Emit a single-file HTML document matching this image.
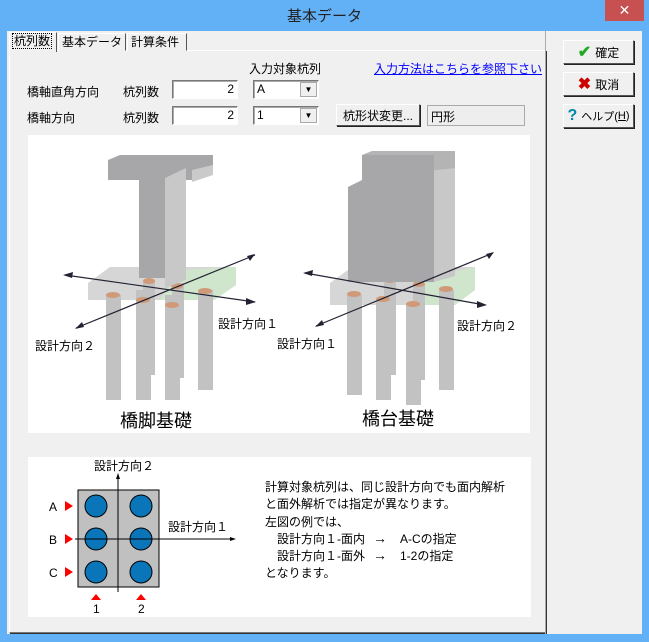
<!DOCTYPE html>
<html><head><meta charset="utf-8"><style>
*{margin:0;padding:0;box-sizing:border-box}
body{width:649px;height:642px;background:#62b0f5;font-family:"Liberation Sans","Noto Sans CJK JP",sans-serif;font-size:12px;color:#000;position:relative;overflow:hidden}
.a{position:absolute}
.client{left:7px;top:31px;width:635px;height:603px;background:#f0f0f0}
.btn{position:absolute;background:#f0f0f0;border:1px solid;border-color:#fff #555 #555 #fff;box-shadow:1px 1px 0 #222;font-size:12px;display:flex;align-items:center;justify-content:center}
.inp{position:absolute;background:#fff;border:1px solid;border-color:#777 #fff #fff #777;box-shadow:inset 1px 1px 0 #aaa;font-size:12px;line-height:16px}
.tab{position:absolute;top:33px;height:18px;background:#f0f0f0;border:1px solid;border-color:#fff #555 transparent #fff;font-size:12px;padding:0 3px;line-height:16px}
</style></head><body>
<div class="a" style="left:0;top:0;width:649px;height:31px;background:#62b0f5"></div>
<div class="a" style="left:0;top:5px;width:649px;text-align:center;font-size:15px;color:#222">基本データ</div>
<div class="a" style="left:605px;top:0;width:39px;height:21px;background:#c75050;color:#fff;text-align:center;font-size:14px;line-height:20px">✕</div>
<div class="a client"></div>
<div class="a" style="left:9px;top:50px;width:537px;height:583px;border:1px solid;border-color:#fff #777 #777 #fff;box-shadow:1px 1px 0 #333"></div>
<div class="tab" style="left:9px;top:32px;height:20px;border-bottom:none;z-index:2;width:48px">
<span style="outline:1px dotted #000;padding:0 1px">杭列数</span></div>
<div class="tab" style="left:58px;width:68px">基本データ</div>
<div class="tab" style="left:127px;width:60px">計算条件</div>
<div class="a" style="left:545px;top:31px;width:1px;height:603px;background:#aaa"></div>

<div class="a" style="left:249px;top:60px">入力対象杭列</div>
<div class="a" style="left:374px;top:60px;color:#00f;text-decoration:underline">入力方法はこちらを参照下さい</div>
<div class="a" style="left:27px;top:83px">橋軸直角方向</div>
<div class="a" style="left:123px;top:83px">杭列数</div>
<div class="inp" style="left:172px;top:80px;width:66px;height:19px;text-align:right;padding-right:3px">2</div>
<div class="inp" style="left:253px;top:80px;width:66px;height:19px;padding-left:3px">A</div>
<div class="a" style="left:300px;top:82px;width:17px;height:15px;background:#f0f0f0;border:1px solid #aaa;text-align:center;font-size:8px;line-height:14px">▼</div>
<div class="a" style="left:27px;top:109px">橋軸方向</div>
<div class="a" style="left:123px;top:109px">杭列数</div>
<div class="inp" style="left:172px;top:106px;width:66px;height:19px;text-align:right;padding-right:3px">2</div>
<div class="inp" style="left:253px;top:106px;width:66px;height:19px;padding-left:3px">1</div>
<div class="a" style="left:300px;top:108px;width:17px;height:15px;background:#f0f0f0;border:1px solid #aaa;text-align:center;font-size:8px;line-height:14px">▼</div>
<div class="btn" style="left:336px;top:104px;width:84px;height:22px">杭形状変更...</div>
<div class="a" style="left:427px;top:105px;width:98px;height:21px;border:1px solid #aaa;background:#eee;padding:2px 3px">円形</div>

<div class="btn" style="left:563px;top:40px;width:71px;height:24px"><span style="color:#2a2;font-size:16px;font-weight:bold;margin-right:4px">✔</span>確定</div>
<div class="btn" style="left:563px;top:72px;width:71px;height:24px"><span style="color:#c00;font-size:16px;font-weight:bold;margin-right:4px">✖</span>取消</div>
<div class="btn" style="left:563px;top:104px;width:71px;height:24px;font-size:11px"><span style="color:#08a;font-size:16px;font-weight:bold;margin-right:4px">?</span>ヘルプ(<u>H</u>)</div>

<svg class="a" style="left:28px;top:135px" width="502" height="298" viewBox="28 135 502 298">
<rect x="28" y="135" width="502" height="298" fill="#fff"/>
<g>
<polygon points="88,283 110,267 236,267 236,285 214,300 88,300" fill="#d6d6d6"/>
<polygon points="180,270 236,267 236,285 214,300 160,300" fill="#cfe6cc"/>
<g fill="#c2c2c2">
<rect x="106" y="295" width="15" height="105"/><rect x="136" y="290" width="15" height="110"/>
<rect x="165" y="295" width="15" height="105"/><rect x="198" y="290" width="15" height="100"/>
<rect x="143" y="280" width="12" height="95"/><rect x="172" y="283" width="12" height="95"/>
</g>
<g fill="#d09a78"><ellipse cx="113" cy="295" rx="7" ry="3"/><ellipse cx="143" cy="300" rx="7" ry="3"/><ellipse cx="172" cy="305" rx="7" ry="3"/><ellipse cx="205" cy="291" rx="7" ry="3"/><ellipse cx="149" cy="281" rx="6" ry="3"/><ellipse cx="177" cy="286" rx="6" ry="3"/></g>
<polygon points="108,160 120,155 213,155 213,170 192,180 108,180" fill="#a7a7a9"/>
<polygon points="192,170 213,165 213,175 192,182" fill="#cacaca"/>
<rect x="139" y="178" width="26" height="100" fill="#a7a7a9"/>
<polygon points="165,178 186,168 186,280 165,288" fill="#c8c8c8"/>
<line x1="65" y1="275" x2="255" y2="302" stroke="#223" stroke-width="1.2"/>
<line x1="76" y1="328" x2="255" y2="255" stroke="#223" stroke-width="1.2"/>
<polygon points="63,275 73,272 72,278" fill="#223"/><polygon points="256,302 246,298 246,305" fill="#223"/>
<polygon points="75,329 82,322 84,327" fill="#223"/><polygon points="255,254 247,256 250,261" fill="#223"/>
</g>
<g>
<polygon points="330,283 352,267 475,267 475,290 455,305 330,305" fill="#d6d6d6"/>
<polygon points="418,280 475,267 475,290 455,305 420,305" fill="#cfe6cc"/>
<g fill="#c2c2c2">
<rect x="347" y="295" width="15" height="100"/><rect x="376" y="300" width="15" height="100"/>
<rect x="406" y="305" width="15" height="100"/><rect x="439" y="290" width="15" height="100"/>
<rect x="384" y="280" width="12" height="95"/><rect x="413" y="285" width="12" height="95"/>
</g>
<g fill="#d09a78"><ellipse cx="354" cy="294" rx="7" ry="3"/><ellipse cx="383" cy="299" rx="7" ry="3"/><ellipse cx="413" cy="304" rx="7" ry="3"/><ellipse cx="446" cy="289" rx="7" ry="3"/><ellipse cx="390" cy="280" rx="6" ry="3"/><ellipse cx="419" cy="284" rx="6" ry="3"/></g>
<polygon points="348,187 362,180 362,155 455,155 455,168 434,200 434,282 348,282" fill="#a7a7a9"/>
<polygon points="434,170 455,168 455,276 434,282" fill="#c8c8c8"/>
<polygon points="362,155 372,151 455,151 455,168 434,170 434,155" fill="#b4b4b4"/>
<line x1="305" y1="273" x2="485" y2="305" stroke="#223" stroke-width="1.2"/>
<line x1="316" y1="326" x2="493" y2="253" stroke="#223" stroke-width="1.2"/>
<polygon points="303,273 313,270 312,276" fill="#223"/><polygon points="487,305 477,301 477,308" fill="#223"/>
<polygon points="315,327 322,320 324,325" fill="#223"/><polygon points="494,252 486,254 489,259" fill="#223"/>
</g>
<g font-size="12" fill="#000">
<text x="218" y="328">設計方向１</text><text x="35" y="350">設計方向２</text>
<text x="457" y="330">設計方向２</text><text x="277" y="348">設計方向１</text>
<text x="120" y="427" font-size="18">橋脚基礎</text><text x="362" y="425" font-size="18">橋台基礎</text>
</g>
</svg>

<svg class="a" style="left:28px;top:457px" width="503" height="160" viewBox="28 457 503 160">
<rect x="28" y="457" width="503" height="160" fill="#fff"/>
<rect x="78" y="490" width="81" height="97" fill="#c0c0c0" stroke="#000"/>
<line x1="118" y1="490" x2="118" y2="587" stroke="#000"/>
<g fill="#0a75b8" stroke="#000"><circle cx="96" cy="506" r="11"/><circle cx="141" cy="506" r="11"/><circle cx="96" cy="539" r="11"/><circle cx="141" cy="539" r="11"/><circle cx="96" cy="572" r="11"/><circle cx="141" cy="572" r="11"/></g>
<line x1="118" y1="477" x2="118" y2="592" stroke="#000"/>
<polygon points="118,473 116,479 120,479" fill="#000"/>
<line x1="75" y1="539" x2="232" y2="539" stroke="#000"/>
<polygon points="236,539 230,537 230,541" fill="#000"/>
<g fill="#f00"><polygon points="65,501 73,506 65,511"/><polygon points="65,534 73,539 65,544"/><polygon points="65,567 73,572 65,577"/>
<polygon points="96,594 91,600 101,600"/><polygon points="141,594 136,600 146,600"/></g>
<g font-size="12" fill="#000">
<text x="94" y="470">設計方向２</text><text x="168" y="531">設計方向１</text>
<text x="49" y="511">A</text><text x="49" y="544">B</text><text x="49" y="577">C</text>
<text x="93" y="613">1</text><text x="138" y="613">2</text>
<text x="265" y="491">計算対象杭列は、同じ設計方向でも面内解析</text>
<text x="265" y="508">と面外解析では指定が異なります。</text>
<text x="265" y="526">左図の例では、</text>
<text x="277" y="543">設計方向１-面内</text><text x="373" y="543" font-size="14">→</text><text x="400" y="543">A-Cの指定</text>
<text x="277" y="560">設計方向１-面外</text><text x="373" y="560" font-size="14">→</text><text x="400" y="560">1-2の指定</text>
<text x="265" y="577">となります。</text>
</g>
</svg>
</body></html>
